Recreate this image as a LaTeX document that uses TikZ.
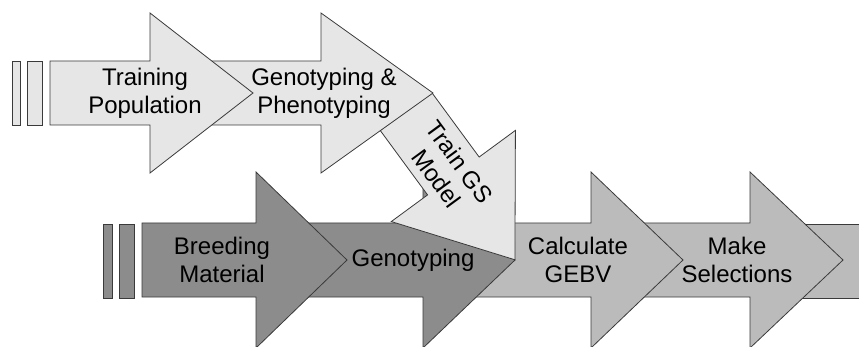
\documentclass[tikz,border=0pt]{standalone}
\usepackage{fontspec}
\setmainfont{Liberation Sans}
\usepackage{xcolor}
\usepackage{tikz}
\definecolor{lightfill}{HTML}{E6E6E6}
\definecolor{midfill}{HTML}{BBBBBB}
\definecolor{darkfill}{HTML}{8C8C8C}
\definecolor{edge}{HTML}{3A3A3A}
\tikzstyle{arrowshape} = [draw=edge, line width=0.8pt, line join=miter]
\tikzstyle{lightarrow} = [arrowshape, fill=lightfill]
\tikzstyle{midarrow} = [arrowshape, fill=midfill]
\tikzstyle{darkarrow} = [arrowshape, fill=darkfill]
\tikzstyle{steplabel} = [align=center, inner sep=0pt, text=black,
font=\fontsize{24}{28}\selectfont]
\newcommand{\blockarrow}[7][]{%
\draw [#1] (#2,#5-#6) -- (#3,#5-#6) -- (#3,#5-#7) -- (#4,#5)
    -- (#3,#5+#7) -- (#3,#5+#6) -- (#2,#5+#6) -- cycle;
}
\begin{document}
\begin{tikzpicture}[x=1pt, y=-1pt]
        \useasboundingbox (0,0) rectangle (859,347);
        \clip (0,0) rectangle (859,347);
        % selection cycle
        \draw [midarrow] (790,224) rectangle (880,298);
        \blockarrow[midarrow]{620}{750}{843}{260}{37}{88}
        \blockarrow[midarrow]{440}{591}{683}{260}{37}{88}
        \blockarrow[darkarrow]{270}{423}{515}{260}{37}{88}
        \blockarrow[darkarrow]{142}{256}{347}{260}{37}{88}
        \draw [darkarrow] (103,224) rectangle (112,298);
        \draw [darkarrow] (119,224) rectangle (134,298);
        % training cycle
        \begin{scope}[shift={(406,111.5)}, rotate=-53.7]
            \blockarrow[lightarrow]{0}{80}{184}{0}{32}{77}
        \end{scope}
        \blockarrow[lightarrow]{170}{321}{433}{93}{32}{80}
        \blockarrow[lightarrow]{50}{150}{253}{93}{32}{80}
        \draw [lightarrow] (12,61) rectangle (20,125);
        \draw [lightarrow] (27,61) rectangle (42,125);
        \node [steplabel] (trainpop) at (145,93) {Training\\Population};
        \node [steplabel] (genopheno) at (324,93) {Genotyping \&\\Phenotyping};
        \node [steplabel, rotate=-53.7] (gsmodel) at (448,170) {Train GS\\Model};
        \node [steplabel] (breeding) at (222,260) {Breeding\\Material};
        \node [steplabel] (genotyping) at (413,260) {Genotyping};
        \node [steplabel] (gebv) at (578,260) {Calculate\\GEBV};
        \node [steplabel] (selections) at (737,260) {Make\\Selections};
    \end{tikzpicture}
\end{document}
